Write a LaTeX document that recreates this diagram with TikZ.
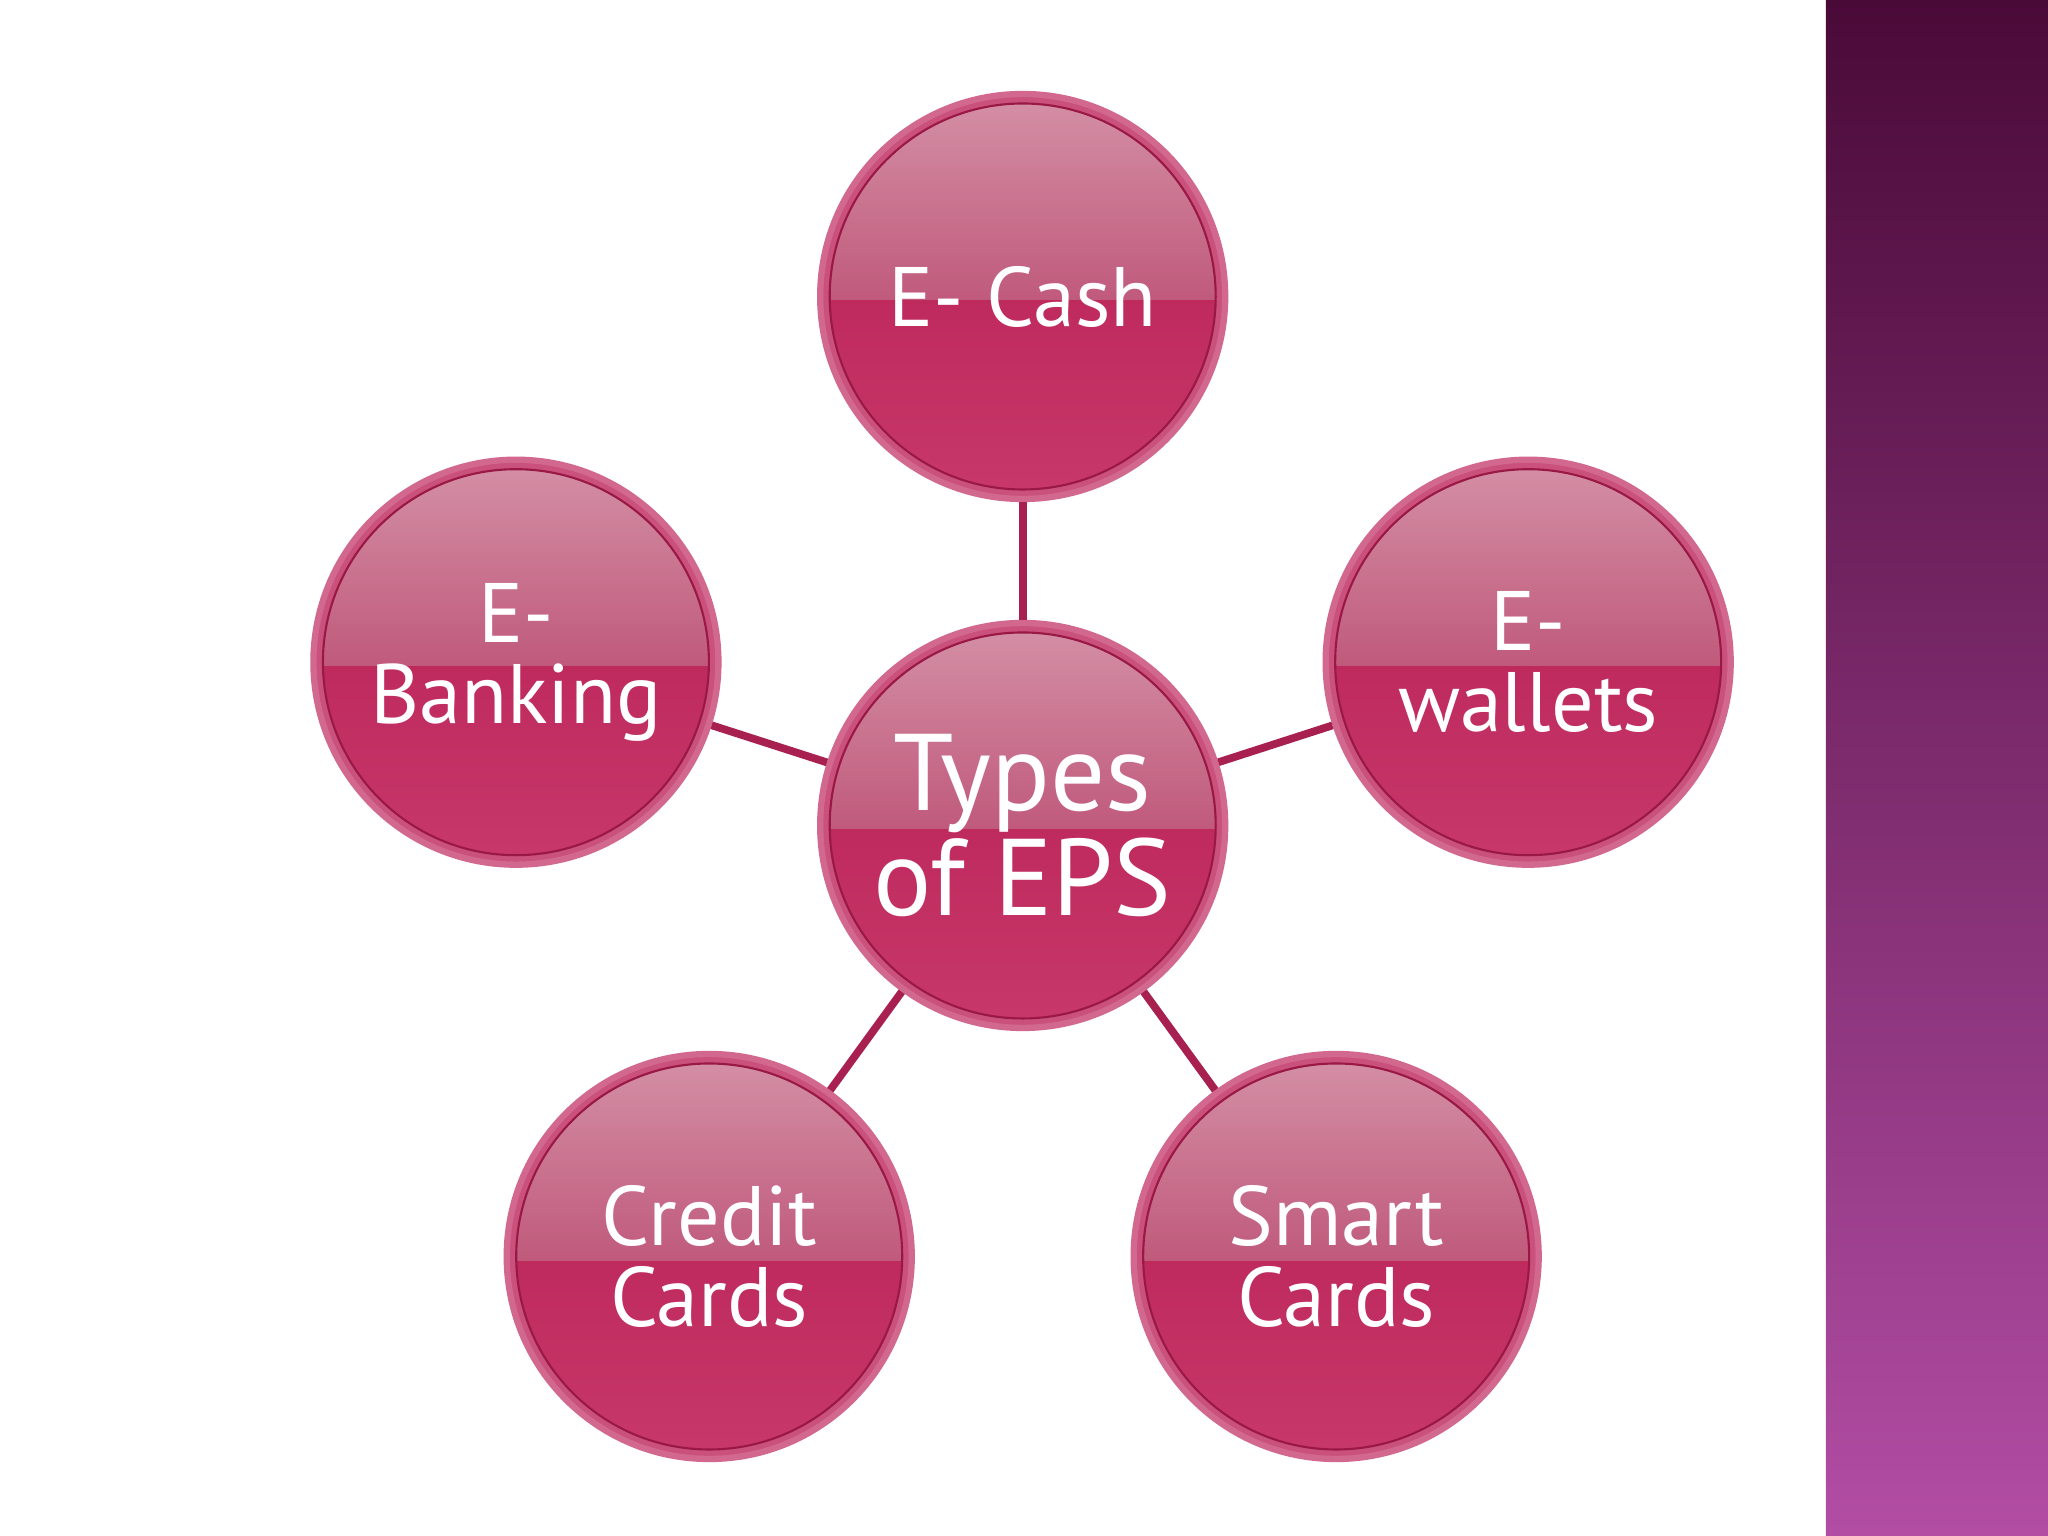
\documentclass[tikz,border=0pt]{standalone}
\usepackage{fontspec}
\setmainfont{PT Sans}
\begin{document}
\begin{tikzpicture}[x=0.01306cm,y=-0.01306cm]
\definecolor{rim}{HTML}{D2688E}
\definecolor{lowc}{HTML}{B51C50}
\definecolor{lowb}{HTML}{C8386A}
\definecolor{topa}{HTML}{D490A6}
\definecolor{topb}{HTML}{C05A7C}
\definecolor{linec}{HTML}{A8204F}
\definecolor{bartop}{HTML}{4A0A38}
\definecolor{barbot}{HTML}{B24DA4}
\tikzset{
 ball/.style={circle,minimum size=4.05cm,inner sep=0pt,fill=lowc,
   draw=rim,line width=1.8pt,text=white,align=center,
   font=\fontsize{24}{23}\selectfont,
   path picture={
     \shade[top color=lowc,bottom color=lowb] (path picture bounding box.west) rectangle (path picture bounding box.south east);
     \shade[top color=topa,bottom color=topb] (path picture bounding box.north west) rectangle ([yshift=-1pt]path picture bounding box.east);
     \draw[rim!70!lowc,line width=2.5pt] (path picture bounding box.center) circle (1.97cm);
     \draw[lowc!85!black,line width=0.6pt] (path picture bounding box.center) circle (1.93cm);
   }},
 bigball/.style={ball,font=\fontsize{31}{30}\selectfont},
 conn/.style={draw=linec,line width=2.2pt}
}
\useasboundingbox (0,0) rectangle (1568,1176);
\fill[white] (0,0) rectangle (1568,1176);
\shade[top color=bartop,bottom color=barbot] (1398,0) rectangle (1568,1176);
\node[bigball] (c) at (783,632) {Types\\of EPS};
\node[ball] (a) at (783,227) {E- Cash};
\node[ball] (b) at (395,507) {E-\\Banking};
\node[ball] (d) at (1170,507) {E-\\wallets};
\node[ball] (e) at (543,962) {Credit\\Cards};
\node[ball] (f) at (1023,962) {Smart\\Cards};
\foreach \p in {a,b,d,e,f}{\draw[conn] (c) -- (\p);}
\end{tikzpicture}
\end{document}
